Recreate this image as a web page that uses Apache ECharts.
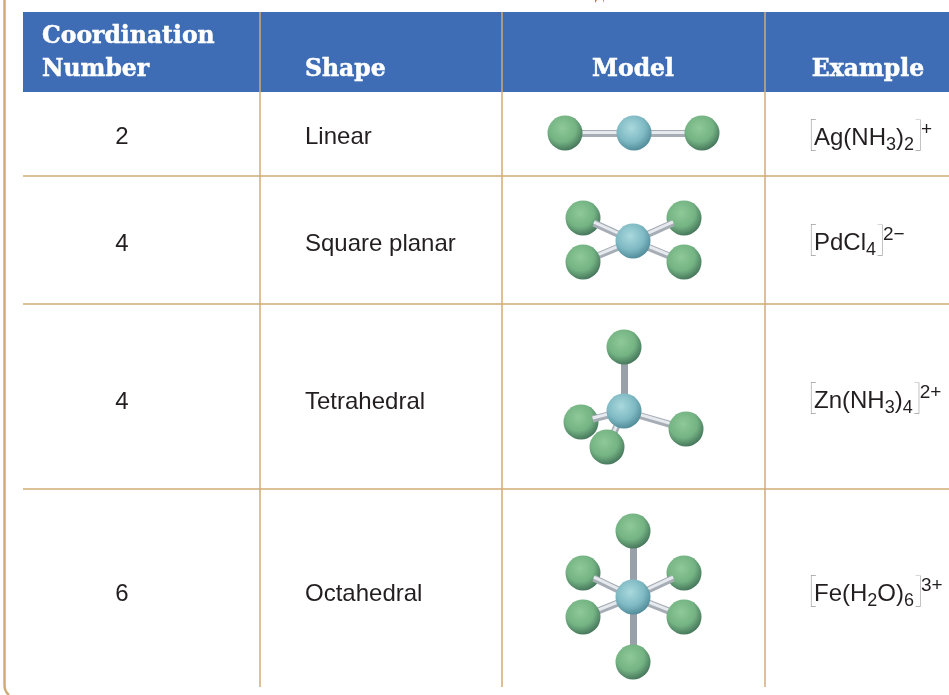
<!DOCTYPE html>
<html>
<head>
<meta charset="utf-8">
<title>Coordination geometries</title>
<script src="https://cdn.jsdelivr.net/npm/echarts@6/dist/echarts.min.js"></script>
<style>
html, body { margin: 0; padding: 0; background: #fff; }
#chart { width: 949px; height: 695px; }
</style>
</head>
<body>
<div id="chart"></div>
<script>
// table text
var headerCoord = ['Coordination\nNumber'];
var headers = ['Shape', 'Model', 'Example'];
var coordNumbers = ['2', '4', '4', '6'];
var shapes = ['Linear', 'Square planar', 'Tetrahedral', 'Octahedral'];
var rowCenters = [137, 244, 402, 594];

// table lines
var columnEdges = [260, 502, 765];
var rowEdges = [176, 304, 489];
var headerBand = [23, 12, 949, 92];
var pageEdge = [[4.5, 0], [4.5, 684], [5, 689], [7, 693], [9, 695]];
var titleStub = [[595, 3], [597, 0], [603, 0], [604, 3]];

// atoms: [x, y, index of the central atom]
var centerAtoms = [[634, 133], [633, 241], [624, 411], [633, 597]];
var backAtoms = [[583, 218, 1], [684, 218, 1], [581, 422, 2], [583, 573, 3], [684, 573, 3]];
var frontAtoms = [
  [565, 133, 0], [702, 133, 0],
  [583, 262, 1], [684, 262, 1],
  [624, 347, 2], [607, 447, 2], [686, 429, 2],
  [633, 531, 3], [583, 617, 3], [684, 617, 3], [633, 662, 3]
];

// sticks stop a little inside the ligand ball instead of running to its middle
var bonds = [];
backAtoms.concat(frontAtoms).forEach(function (a) {
  var c = centerAtoms[a[2]];
  var dx = c[0] - a[0], dy = c[1] - a[1];
  var len = Math.sqrt(dx * dx + dy * dy);
  bonds.push({ coords: [[c[0], c[1]], [a[0] + dx / len * 12, a[1] + dy / len * 12]] });
});

// vertical sticks read darker than the slanted ones
var verticalBonds = bonds.filter(function (b) { return b.coords[0][0] === b.coords[1][0]; });
var otherBonds = bonds.filter(function (b) { return b.coords[0][0] !== b.coords[1][0]; });
var bondShine = otherBonds.map(function (b) {
  return { coords: b.coords.map(function (p) { return [p[0], p[1] - 1]; }) };
});

var BODY_FONT = '"Liberation Sans"';
var TAN = '#d0ab74';

function ball(light, mid, dark) {
  return new echarts.graphic.RadialGradient(0.42, 0.36, 0.66, [
    { offset: 0, color: light },
    { offset: 0.6, color: mid },
    { offset: 1, color: dark }
  ]);
}
var green = ball('#8fc998', '#74b383', '#44745a');
var blue = ball('#a9d9dd', '#7fb9c3', '#4f8a98');

function atomSeries(data, color, z) {
  return {
    type: 'scatter', data: data, symbol: 'circle', symbolSize: 35, z: z,
    itemStyle: { color: color, opacity: 1 }, silent: true, animation: false
  };
}
function bondSeries(data, color, width, z) {
  return {
    type: 'lines', coordinateSystem: 'cartesian2d', data: data, silent: true, animation: false, z: z,
    lineStyle: { color: color, width: width, opacity: 1 }
  };
}
function textSeries(data, font, align, color, extra) {
  return {
    type: 'scatter', data: data, symbolSize: 0, silent: true, animation: false, z: 20,
    itemStyle: { opacity: 1 },
    label: Object.assign({
      show: true, position: 'inside', align: align, verticalAlign: 'middle',
      fontFamily: font, color: color, opacity: 1,
      formatter: function (p) { return p.data[2]; }
    }, extra)
  };
}

var slab = { fontSize: 23.5, fontWeight: 'bold', lineHeight: 33, textBorderColor: '#fff', textBorderWidth: 0.5 };
var body = { fontSize: 24 };

// formula pieces, rich text keeps them as one string of real text
var formulaRich = {
  b: { fontSize: 24, fontFamily: BODY_FONT, color: '#231f20' },
  k: { fontSize: 36, fontFamily: '"Lato"', fontWeight: 100, color: '#6d6d6d', width: 7, padding: [0, 0, 7, 0] },
  s: { fontSize: 18, fontFamily: BODY_FONT, color: '#231f20', padding: [14, 0, 0, 0] },
  u: { fontSize: 19, fontFamily: BODY_FONT, color: '#231f20', padding: [0, 0, 16, 0] }
};
var formulas = [
  [807, 138, '{k|[}{b|Ag(NH}{s|3}{b|)}{s|2}{k|]}{u|+}'],
  [807, 243, '{k|[}{b|PdCl}{s|4}{k|]}{u|2\u2212}'],
  [807, 401, '{k|[}{b|Zn(NH}{s|3}{b|)}{s|4}{k|]}{u|2+}'],
  [807, 594, '{k|[}{b|Fe(H}{s|2}{b|O)}{s|6}{k|]}{u|3+}']
];

var rects = [headerBand.concat(['#3f6db5'])];
columnEdges.forEach(function (x) { rects.push([x - 0.75, 12, x + 0.75, 687, TAN]); });
rowEdges.forEach(function (y) { rects.push([23, y - 0.75, 949, y + 0.75, TAN]); });

var myChart = echarts.init(document.getElementById('chart'), null, { renderer: 'canvas' });
myChart.setOption({
  animation: false,
  backgroundColor: '#fff',
  grid: { left: 0, right: 0, top: 0, bottom: 0, containLabel: false },
  xAxis: { type: 'value', min: 0, max: 949, show: false },
  yAxis: { type: 'value', min: 0, max: 695, inverse: true, show: false },
  series: [
    {
      type: 'custom', coordinateSystem: 'cartesian2d', silent: true, data: rects, z: 1,
      encode: { x: [0, 2], y: [1, 3] },
      renderItem: function (params, api) {
        var p0 = api.coord([api.value(0), api.value(1)]);
        var p1 = api.coord([api.value(2), api.value(3)]);
        return {
          type: 'rect',
          shape: { x: p0[0], y: p0[1], width: p1[0] - p0[0], height: p1[1] - p0[1] },
          style: { fill: rects[params.dataIndex][4] }
        };
      }
    },
    {
      type: 'line', data: pageEdge, showSymbol: false, silent: true, smooth: 0.3, z: 1,
      lineStyle: { color: TAN, width: 2.5 }
    },
    {
      type: 'line', data: titleStub, showSymbol: false, silent: true, z: 1,
      lineStyle: { width: 0 }, areaStyle: { color: '#b8811f', origin: 'start', opacity: 1 }
    },
    atomSeries(backAtoms, green, 5),
    bondSeries(otherBonds, '#a6adb5', 7, 6),
    bondSeries(bondShine, '#e6e9ee', 3, 7),
    bondSeries(verticalBonds, '#98a0a9', 7, 7),
    atomSeries(frontAtoms, green, 8),
    atomSeries(centerAtoms, blue, 9),
    textSeries([[42, 53, headerCoord[0]]], '"DejaVu Serif"', 'left', '#fff', slab),
    textSeries([[305, 70, headers[0]], [633, 70, headers[1]], [868, 70, headers[2]]].map(function (d, i) {
      return i === 0 ? { value: d, label: { align: 'left' } } : { value: d };
    }), '"DejaVu Serif"', 'center', '#fff', Object.assign({}, slab, {
      formatter: function (p) { return p.value[2]; }
    })),
    textSeries(coordNumbers.map(function (n, i) { return [122, rowCenters[i], n]; }), BODY_FONT, 'center', '#231f20', body),
    textSeries(shapes.map(function (s, i) { return [305, rowCenters[i], s]; }), BODY_FONT, 'left', '#231f20', body),
    textSeries(formulas, BODY_FONT, 'left', '#231f20', { rich: formulaRich })
  ]
});
</script>
</body>
</html>
